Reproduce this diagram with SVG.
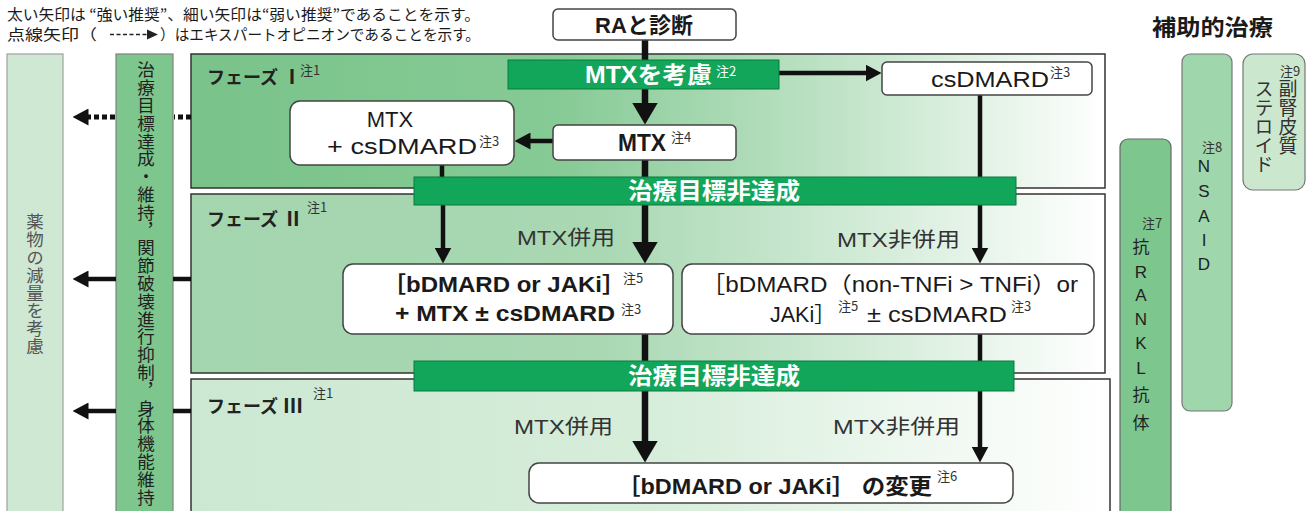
<svg xmlns="http://www.w3.org/2000/svg" width="1314" height="511" viewBox="0 0 1314 511">
<style>
.jp{font-family:'Noto Sans CJK JP',sans-serif;}
.la{font-family:'Liberation Sans','Noto Sans CJK JP',sans-serif;}
.note{font-family:'Noto Sans CJK JP',sans-serif;font-size:13px;fill:#333;font-weight:normal;}
.box{fill:#fff;stroke:#444;stroke-width:1.5;}
.gbar{fill:#12a65a;stroke:#0b7a40;stroke-width:1;}
.phase{stroke:#333;stroke-width:1.5;}
.wt{fill:#fff;font-weight:bold;}
.lbl{font-family:'Liberation Sans','Noto Sans CJK JP',sans-serif;font-size:20px;fill:#333;}
.ph{font-family:'Noto Sans CJK JP',sans-serif;font-weight:bold;font-size:18px;fill:#222;}
.num{font-size:20px;}
.vt{font-family:'Noto Sans CJK JP',sans-serif;writing-mode:vertical-rl;}
.thick{stroke:#111;stroke-width:6.5;fill:none;}
.thin{stroke:#111;stroke-width:4.5;fill:none;}
.dot{stroke:#111;stroke-width:5;stroke-dasharray:5 3;fill:none;}
.t{fill:#1a1a1a;}
</style>
<defs>
<linearGradient id="g1" x1="0" y1="0" x2="1" y2="0">
<stop offset="0" stop-color="#79c38a"/><stop offset="0.4" stop-color="#86ca95"/><stop offset="0.72" stop-color="#c2e4c9"/><stop offset="1" stop-color="#ffffff"/>
</linearGradient>
<linearGradient id="g2" x1="0" y1="0" x2="1" y2="0">
<stop offset="0" stop-color="#a3d5ae"/><stop offset="0.45" stop-color="#a9d8b3"/><stop offset="0.75" stop-color="#d4ecd9"/><stop offset="1" stop-color="#ffffff"/>
</linearGradient>
<linearGradient id="g3" x1="0" y1="0" x2="1" y2="0">
<stop offset="0" stop-color="#cce8d2"/><stop offset="0.5" stop-color="#d6edda"/><stop offset="1" stop-color="#ffffff"/>
</linearGradient>
<marker id="ahThick" markerUnits="userSpaceOnUse" markerWidth="22" markerHeight="26" viewBox="0 0 22 26" refX="0.5" refY="13" orient="auto"><path d="M0,0 L22,13 L0,26 Z" fill="#111"/></marker>
<marker id="ahThin" markerUnits="userSpaceOnUse" markerWidth="16" markerHeight="17" viewBox="0 0 16 17" refX="0.5" refY="8.5" orient="auto"><path d="M0,0 L16,8.5 L0,17 Z" fill="#111"/></marker>
</defs>

<!-- legend -->
<g id="legend">
<text class="jp t" x="7" y="20" font-size="15" textLength="473" lengthAdjust="spacingAndGlyphs">太い矢印は “強い推奨”、細い矢印は“弱い推奨”であることを示す。</text>
<text class="jp t" x="7" y="40" font-size="15" textLength="90" lengthAdjust="spacingAndGlyphs">点線矢印（</text>
<line x1="110" y1="34.5" x2="148" y2="34.5" stroke="#222" stroke-width="1.4" stroke-dasharray="4 2.5"/>
<path d="M147,29.5 L158,34.5 L147,39.5 Z" fill="#222"/>
<text class="jp t" x="160" y="40" font-size="15" textLength="320" lengthAdjust="spacingAndGlyphs">）はエキスパートオピニオンであることを示す。</text>
</g>

<!-- left bars -->
<g id="reduce">
<rect x="7" y="54" width="56" height="470" fill="#cfe8d3" stroke="#a0a0a0" stroke-width="1.2"/>
<text class="vt" x="35" y="213" font-size="17.5" letter-spacing="0.3" fill="#555">薬物の減量を考慮</text>
</g>
<g id="goal">
<rect x="116" y="54" width="57" height="470" fill="#7dc68d" stroke="#808080" stroke-width="1.2"/>
<text class="vt" x="146" y="61" font-size="17.5" letter-spacing="0.3" fill="#222">治療目標達成・維持，関節破壊進行抑制，身体機能維持</text>
</g>

<!-- phases -->
<g id="phase1">
<rect class="phase" x="191" y="54" width="914" height="134" fill="url(#g1)"/>
<text class="ph" x="207" y="84">フェーズ<tspan class="num" x="282">Ⅰ</tspan><tspan class="note" x="300" y="75">注1</tspan></text>
</g>
<g id="phase2">
<rect class="phase" x="191" y="194" width="914" height="179" fill="url(#g2)"/>
<text class="ph" x="207" y="226">フェーズ<tspan class="num" x="283">Ⅱ</tspan><tspan class="note" x="307" y="212">注1</tspan></text>
</g>
<g id="phase3">
<rect class="phase" x="191" y="379" width="919" height="145" fill="url(#g3)"/>
<text class="ph" x="207" y="413">フェーズ<tspan class="num" x="283">Ⅲ</tspan><tspan class="note" x="313" y="398">注1</tspan></text>
</g>

<!-- connectors -->
<g id="connectors">
<line class="thick" x1="645" y1="40" x2="645" y2="60"/>
<line class="thick" x1="645" y1="89" x2="645" y2="103" marker-end="url(#ahThick)"/>
<line class="thin" x1="553" y1="141" x2="530" y2="141" marker-end="url(#ahThin)"/>
<line class="thin" x1="779" y1="73" x2="866" y2="73" marker-end="url(#ahThin)"/>
<line class="thin" x1="980" y1="95" x2="980" y2="177"/>
<line class="thick" x1="645" y1="160" x2="645" y2="177"/>
<line class="thin" x1="442" y1="165" x2="442" y2="177"/>
<line class="thin" x1="443" y1="205" x2="443" y2="248" marker-end="url(#ahThin)"/>
<line class="thick" x1="645" y1="205" x2="645" y2="242" marker-end="url(#ahThick)"/>
<line class="thin" x1="980" y1="205" x2="980" y2="248" marker-end="url(#ahThin)"/>
<line class="thick" x1="645" y1="334" x2="645" y2="361"/>
<line class="thin" x1="980" y1="334" x2="980" y2="361"/>
<line class="thick" x1="645" y1="391" x2="645" y2="441" marker-end="url(#ahThick)"/>
<line class="thin" x1="980" y1="391" x2="980" y2="447" marker-end="url(#ahThin)"/>
<line class="dot" x1="191" y1="117" x2="174" y2="117"/>
<line class="dot" x1="115" y1="117" x2="88" y2="117" marker-end="url(#ahThin)"/>
<line class="thin" x1="191" y1="279" x2="173" y2="279"/>
<line class="thin" x1="116" y1="279" x2="88" y2="279" marker-end="url(#ahThin)"/>
<line class="thin" x1="191" y1="411" x2="173" y2="411"/>
<line class="thin" x1="116" y1="411" x2="88" y2="411" marker-end="url(#ahThin)"/>
</g>

<!-- nodes -->
<g id="ra">
<rect class="box" x="553" y="9" width="183" height="31" rx="5"/>
<text class="la t" x="644" y="33" font-size="22" font-weight="bold" text-anchor="middle">RAと診断</text>
</g>
<g id="considerMTX">
<rect class="gbar" x="508" y="60" width="271" height="29"/>
<text class="la wt" x="585" y="83" font-size="23" textLength="127" lengthAdjust="spacingAndGlyphs">MTXを考慮</text>
<text class="note" x="716" y="76" style="fill:#fff">注2</text>
</g>
<g id="csdmard">
<rect class="box" x="882" y="62" width="210" height="33" rx="5"/>
<text class="la t" x="931" y="87" font-size="22" textLength="118" lengthAdjust="spacingAndGlyphs">csDMARD</text>
<text class="note" x="1050" y="77">注3</text>
</g>
<g id="mtx">
<rect class="box" x="553" y="125" width="183" height="35" rx="5"/>
<text class="la t" x="618" y="151" font-size="23" font-weight="bold" textLength="48" lengthAdjust="spacingAndGlyphs">MTX</text>
<text class="note" x="671" y="142">注4</text>
</g>
<g id="mtxcs">
<rect class="box" x="290" y="101" width="224" height="64" rx="10"/>
<text class="la t" x="390" y="127" font-size="22" text-anchor="middle">MTX</text>
<text class="la t" x="327" y="154" font-size="22" textLength="150" lengthAdjust="spacingAndGlyphs">+ csDMARD</text>
<text class="note" x="479" y="146">注3</text>
</g>
<g id="fail1">
<rect class="gbar" x="414" y="177" width="602" height="28"/>
<text class="jp wt" x="628" y="199" font-size="23" textLength="172" lengthAdjust="spacingAndGlyphs">治療目標非達成</text>
</g>
<g id="b1">
<rect class="box" x="343" y="264" width="330" height="70" rx="10"/>
<text class="la t" x="382" y="292" font-size="22" font-weight="bold" textLength="244" lengthAdjust="spacingAndGlyphs">［bDMARD or JAKi］</text>
<text class="note" x="623" y="283">注5</text>
<text class="la t" x="395" y="321" font-size="22" font-weight="bold" textLength="220" lengthAdjust="spacingAndGlyphs">+ MTX ± csDMARD</text>
<text class="note" x="621" y="314">注3</text>
</g>
<g id="b2">
<rect class="box" x="682" y="264" width="412" height="70" rx="10"/>
<text class="la t" x="701" y="292" font-size="22" textLength="377" lengthAdjust="spacingAndGlyphs">［bDMARD（non-TNFi &gt; TNFi）or</text>
<text class="la t" x="770" y="322" font-size="21.5">JAKi］</text>
<text class="note" x="838" y="311">注5</text>
<text class="la t" x="867" y="322" font-size="22" textLength="140" lengthAdjust="spacingAndGlyphs">± csDMARD</text>
<text class="note" x="1011" y="311">注3</text>
</g>
<g id="fail2">
<rect class="gbar" x="414" y="361" width="600" height="30"/>
<text class="jp wt" x="628" y="384" font-size="23" textLength="172" lengthAdjust="spacingAndGlyphs">治療目標非達成</text>
</g>
<g id="b3">
<rect class="box" x="529" y="463" width="484" height="40" rx="10"/>
<text class="la t" x="617" y="494" font-size="22" font-weight="bold" textLength="315" lengthAdjust="spacingAndGlyphs">［bDMARD or JAKi］ の変更</text>
<text class="note" x="937" y="481">注6</text>
</g>

<!-- branch labels -->
<g id="labels">
<text class="lbl" x="517" y="245" textLength="98" lengthAdjust="spacingAndGlyphs">MTX併用</text>
<text class="lbl" x="837" y="247" textLength="123" lengthAdjust="spacingAndGlyphs">MTX非併用</text>
<text class="lbl" x="514" y="434" textLength="99" lengthAdjust="spacingAndGlyphs">MTX併用</text>
<text class="lbl" x="833" y="434" textLength="127" lengthAdjust="spacingAndGlyphs">MTX非併用</text>
</g>

<!-- adjunct therapy -->
<g id="adjunct">
<text class="jp t" x="1152" y="35" font-size="22" font-weight="bold" textLength="121" lengthAdjust="spacingAndGlyphs">補助的治療</text>
</g>
<g id="rankl">
<rect x="1120" y="139" width="51" height="385" rx="8" fill="#7dc68d" stroke="#666" stroke-width="1.2"/>
<text class="note" x="1142" y="228">注7</text>
<g class="la" font-size="17" fill="#222" text-anchor="middle">
<text x="1141" y="253">抗</text>
<text x="1141" y="278">R</text>
<text x="1141" y="301">A</text>
<text x="1141" y="325">N</text>
<text x="1141" y="349">K</text>
<text x="1141" y="374">L</text>
<text x="1141" y="401">抗</text>
<text x="1141" y="429">体</text>
</g>
</g>
<g id="nsaid">
<rect x="1182" y="54" width="50" height="357" rx="8" fill="#a0d6ab" stroke="#777" stroke-width="1.2"/>
<text class="note" x="1202" y="152">注8</text>
<g class="la" font-size="17" fill="#222" text-anchor="middle">
<text x="1204" y="172">N</text>
<text x="1204" y="197">S</text>
<text x="1204" y="222">A</text>
<text x="1204" y="246">I</text>
<text x="1204" y="270">D</text>
</g>
</g>
<g id="steroid">
<rect x="1243" y="54" width="62" height="136" rx="10" fill="#cbe8cf" stroke="#777" stroke-width="1.2"/>
<text class="note" x="1280" y="76">注9</text>
<text class="vt" x="1288" y="79" font-size="19" fill="#333">副腎皮質</text>
<text class="vt" x="1264" y="79" font-size="19" fill="#333">ステロイド</text>
</g>
</svg>
